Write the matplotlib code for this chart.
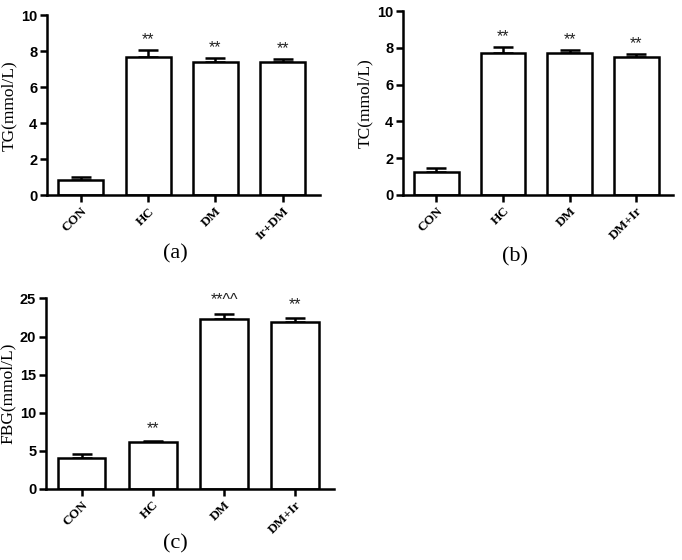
import matplotlib
matplotlib.use("Agg")
import matplotlib.pyplot as plt
import numpy as np

# Panel (a) TG
cats_a = ["CON", "HC", "DM", "Ir+DM"]
vals_a = [0.88, 7.65, 7.41, 7.39]
err_a = [0.15, 0.40, 0.22, 0.18]
sig_a = ["", "**", "**", "**"]

# Panel (b) TC
cats_b = ["CON", "HC", "DM", "DM+Ir"]
vals_b = [1.22, 7.70, 7.73, 7.48]
err_b = [0.23, 0.36, 0.18, 0.20]
sig_b = ["", "**", "**", "**"]

# Panel (c) FBG
cats_c = ["CON", "HC", "DM", "DM+Ir"]
vals_c = [4.07, 6.09, 22.3, 21.85]
err_c = [0.45, 0.2, 0.72, 0.62]
sig_c = ["", "**", "**^^", "**"]

fig = plt.figure(figsize=(6.82, 5.6), dpi=100)

def panel(rect, cats, vals, errs, sigs, ylim, yticks, ylabel, tag, tagpos, star_off):
    ax = fig.add_axes(rect)
    x = np.arange(len(cats))
    ax.bar(x, vals, width=0.67, color="white", edgecolor="black", linewidth=1.8, zorder=2)
    ax.errorbar(x, vals, yerr=[np.zeros(len(errs)), errs], fmt="none", ecolor="black",
                elinewidth=1.8, capsize=7, capthick=1.8, zorder=1)
    for xi, v, e, s in zip(x, vals, errs, sigs):
        if s:
            ax.text(xi, v + e + star_off, s, ha="center", va="bottom", fontsize=11.5,
                    family="Liberation Sans", color="#222222")
    ax.set_xlim(-0.5, 3.55)
    ax.set_ylim(*ylim)
    ax.set_yticks(yticks)
    ax.set_yticklabels([str(t) for t in yticks], fontsize=10.5, fontweight="bold", family="Liberation Sans")
    ax.set_xticks(x)
    ax.set_xticklabels(cats, rotation=45, ha="right", rotation_mode="anchor", fontsize=9.5,
                       fontweight="bold", family="Liberation Serif")
    ax.set_ylabel(ylabel, fontsize=12.5, family="Liberation Serif", labelpad=3)
    for sp in ["top", "right"]:
        ax.spines[sp].set_visible(False)
    for sp in ["left", "bottom"]:
        ax.spines[sp].set_linewidth(1.8)
    ax.tick_params(axis="both", direction="out", length=5, width=1.8, pad=2)
    fig.text(tagpos[0], tagpos[1], tag, ha="center", va="center", fontsize=16, family="Liberation Serif")
    return ax

panel([0.069, 0.651, 0.40, 0.322], cats_a, vals_a, err_a, sig_a, (0, 10), [0, 2, 4, 6, 8, 10],
      "TG(mmol/L)", "(a)", (175/682, 1 - 254/560), 0.15)
panel([0.591, 0.652, 0.396, 0.328], cats_b, vals_b, err_b, sig_b, (0, 10), [0, 2, 4, 6, 8, 10],
      "TC(mmol/L)", "(b)", (515/682, 1 - 257/560), 0.15)
panel([0.0674, 0.127, 0.423, 0.340], cats_c, vals_c, err_c, sig_c, (0, 25), [0, 5, 10, 15, 20, 25],
      "FBG(mmol/L)", "(c)", (175/682, 1 - 544/560), 0.7)

fig.savefig("out.png", dpi=100, facecolor="white")
